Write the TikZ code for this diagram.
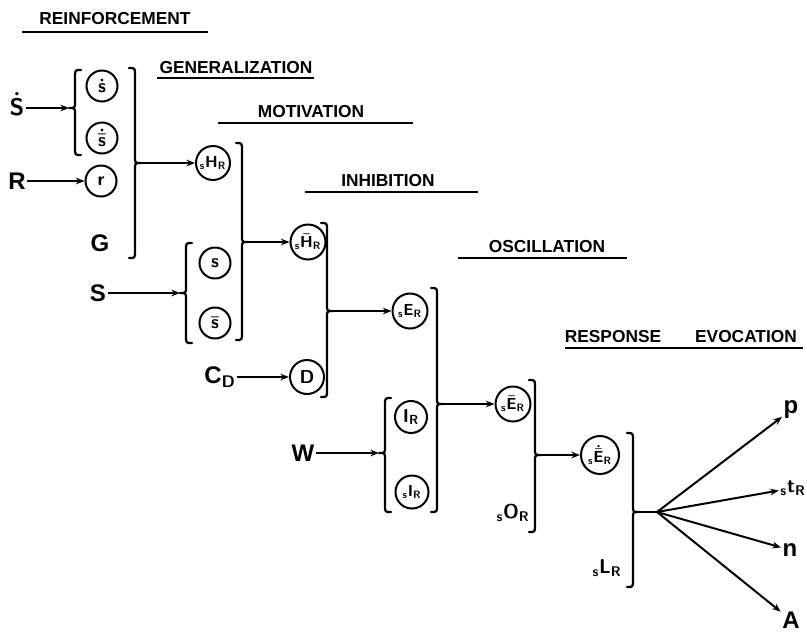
\documentclass[tikz,border=0pt]{standalone}
\usepackage{fontspec}
\setmainfont{Liberation Sans}
\usetikzlibrary{arrows.meta}
\tikzset{
  br/.style={line width=1.7pt, line cap=round, line join=round},
  arr/.style={line width=1.5pt, -{Stealth[length=6.5pt,width=5pt]}},
  circ/.style={circle, draw, line width=1.5pt, minimum size=#1*0.75pt, inner sep=0pt,
    font=\fontsize{14}{15}\selectfont\boldmath},
  circ/.default=31,
  circs/.style={circ=#1, font=\fontsize{12}{13}\selectfont\boldmath},
  lab/.style={font=\fontsize{18}{19}\selectfont\bfseries\boldmath, inner sep=1pt},
  sublab/.style={font=\fontsize{15}{16}\selectfont\boldmath, inner sep=1pt},
  head/.style={font=\fontsize{13}{14}\selectfont\bfseries, inner sep=0pt},
  ul/.style={line width=1.6pt}
}
\newcommand\BrR[5]{\draw[br] ({#2-6},#3) .. controls (#2,#3) .. (#2,{#3+7}) -- (#2,{#4-6}) .. controls (#2,#4) .. ({#2+6},#4) coordinate (#1) .. controls (#2,#4) .. (#2,{#4+6}) -- (#2,{#5-7}) .. controls (#2,#5) .. ({#2-6},#5);}
\newcommand\BrL[5]{\draw[br] ({#2+6},#3) .. controls (#2,#3) .. (#2,{#3+7}) -- (#2,{#4-6}) .. controls (#2,#4) .. ({#2-6},#4) coordinate (#1) .. controls (#2,#4) .. (#2,{#4+6}) -- (#2,{#5-7}) .. controls (#2,#5) .. ({#2+6},#5);}
\begin{document}
\begin{tikzpicture}[x=0.75pt,y=-0.75pt]
\useasboundingbox (0,0) rectangle (807,633);

% headings
\node[head] (h1) at (115,19) {REINFORCEMENT};
\draw[ul] (22,32) -- (208,32);
\node[head] (h2) at (236,68) {GENERALIZATION};
\draw[ul] (157,78) -- (314,78);
\node[head] (h3) at (311,112) {MOTIVATION};
\draw[ul] (218,123) -- (413,123);
\node[head] (h4) at (388,181) {INHIBITION};
\draw[ul] (305,192) -- (478,192);
\node[head] (h5) at (547,247) {OSCILLATION};
\draw[ul] (458,258) -- (627,258);
\node[head] (h6a) at (613,337) {RESPONSE};
\node[head] (h6b) at (746,337) {EVOCATION};
\draw[ul] (565,348) -- (803,348);

% stage 1
\node[lab] (Sd) at (17,104) {$\dot{\mathsf{S}}$};
\BrL{b1}{75}{70}{108}{155}
\node[circ=31] (csd) at (102,86) {$\dot{\mathsf{s}}$};
\node[circ=31] (csb) at (102,138) {$\dot{\bar{\mathsf{s}}}$};
\draw[arr] (Sd.east |- b1) -- (b1);
\node[lab] (R) at (17,181) {R};
\node[circ=31] (cr) at (101,181) {$\mathsf{r}$};
\draw[arr] (R) -- (cr);
\node[lab] (G) at (100,243) {G};
\BrR{t1}{135}{68}{163}{258}
\node[circs=34] (cH) at (213,163) {$_{\mathsf{s}}\mathsf{H}_{\mathsf{R}}$};
\draw[arr] (t1) -- (cH);

% stage 2
\node[lab] (S) at (98,293) {S};
\BrL{b2}{186}{243}{293}{343}
\draw[arr] (S) -- (b2);
\node[circ=31] (cs) at (215,263) {$\mathsf{s}$};
\node[circ=31] (csbar) at (215,323) {$\bar{\mathsf{s}}$};
\BrR{t2}{242}{143}{242}{340}
\node[circs=35] (cHb) at (308,242) {$_{\mathsf{s}}\bar{\mathsf{H}}_{\mathsf{R}}$};
\draw[arr] (t2) -- (cHb);

% stage 3
\node[lab] (CD) at (220,377) {C$_{\mathsf{D}}$};
\node[circ=34] (cD) at (307,377) {$\mathsf{D}$};
\draw[arr] (CD) -- (cD);
\BrR{t3}{327}{223}{311}{397}
\node[circs=35] (cE) at (410,311) {$_{\mathsf{s}}\mathsf{E}_{\mathsf{R}}$};
\draw[arr] (t3) -- (cE);

% stage 4
\node[lab] (W) at (303,453) {W};
\BrL{b4}{385}{398}{453}{512}
\draw[arr] (W) -- (b4);
\node[circ=32] (cI) at (411,417) {$\mathsf{I}_{\mathsf{R}}$};
\node[circs=33] (csI) at (412,492) {$_{\mathsf{s}}\mathsf{I}_{\mathsf{R}}$};
\BrR{t4}{437}{288}{404}{512}
\node[circs=35] (cEb) at (513,404) {$_{\mathsf{s}}\bar{\mathsf{E}}_{\mathsf{R}}$};
\draw[arr] (t4) -- (cEb);

% stage 5
\node[sublab] (sO) at (513,513) {$_{\mathsf{s}}\mathsf{O}_{\mathsf{R}}$};
\BrR{t5}{535}{380}{455}{532}
\node[circs=38] (cEd) at (600,455) {$_{\mathsf{s}}\dot{\bar{\mathsf{E}}}_{\mathsf{R}}$};
\draw[arr] (t5) -- (cEd);

% stage 6
\node[sublab] (sL) at (607,568) {$_{\mathsf{s}}\mathsf{L}_{\mathsf{R}}$};
\BrR{t6}{633}{433}{512}{587}
\coordinate (hub) at (657,512);
\draw[br] (t6) -- (hub);
\node[lab] (P) at (791,410) {p};
\node[sublab] (st) at (793,488) {$_{\mathsf{s}}\mathsf{t}_{\mathsf{R}}$};
\node[lab] (n) at (790,550) {n};
\node[lab] (A) at (791,620) {A};
\draw[arr] (hub) -- (P);
\draw[arr] (hub) -- (st);
\draw[arr] (hub) -- (n);
\draw[arr] (hub) -- (A);
\end{tikzpicture}
\end{document}
